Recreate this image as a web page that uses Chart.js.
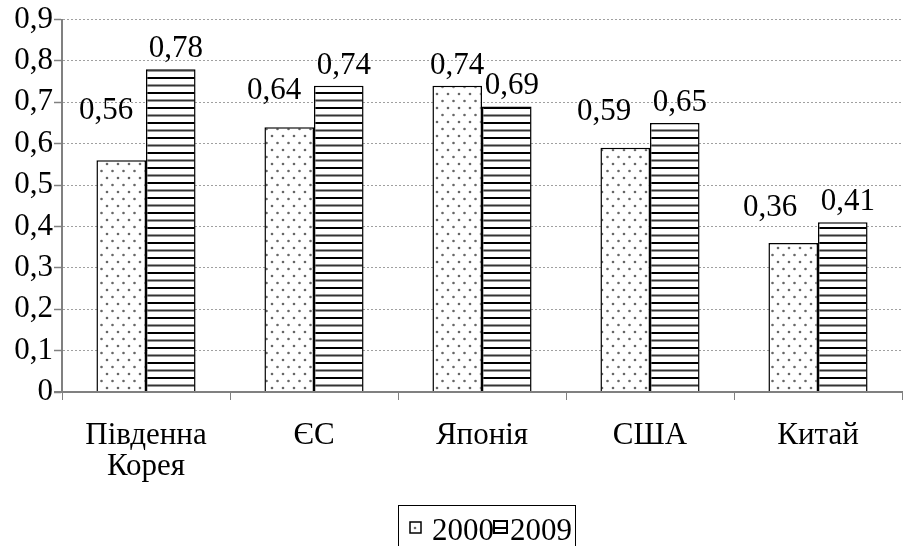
<!DOCTYPE html>
<html>
<head>
<meta charset="utf-8">
<script src="https://cdn.jsdelivr.net/npm/chart.js@4"></script>
<style>
  html, body { margin: 0; padding: 0; background: #fff; }
  #wrap { width: 906px; height: 546px; position: relative; }
</style>
</head>
<body>
<div id="wrap"><canvas id="chart"></canvas></div>
<script>
// Chart data
const categories = [['Південна', 'Корея'], 'ЄС', 'Японія', 'США', 'Китай'];
const seriesNames = ['2000', '2009'];
const values2000 = [0.56, 0.64, 0.74, 0.59, 0.36];
const values2009 = [0.78, 0.74, 0.69, 0.65, 0.41];
const yTicks = ['0', '0,1', '0,2', '0,3', '0,4', '0,5', '0,6', '0,7', '0,8', '0,9'];

const FONT = "'Liberation Serif', 'DejaVu Serif', 'Times New Roman', serif";
const FONT_SIZE = 31;

// hand-moved 2000 labels (dx, dy in px), as in the original
const nudge2000 = [[-15, -41], [-15, -28], [0, -12], [-21, -28], [-23, -27]];

// Fill patterns
function dotPattern() {
  const c = document.createElement('canvas');
  c.width = 11; c.height = 14;
  const g = c.getContext('2d');
  g.fillStyle = '#fff';
  g.fillRect(0, 0, 11, 14);
  g.fillStyle = '#666';
  g.beginPath(); g.arc(2.5, 3, 1.3, 0, Math.PI * 2); g.fill();
  g.beginPath(); g.arc(8, 10, 1.3, 0, Math.PI * 2); g.fill();
  return g.createPattern(c, 'repeat');
}

function stripePattern() {
  const c = document.createElement('canvas');
  c.width = 8; c.height = 15;
  const g = c.getContext('2d');
  g.fillStyle = '#fff';
  g.fillRect(0, 0, 8, 15);
  g.fillStyle = '#000';
  g.fillRect(0, 2, 8, 2);
  g.fillStyle = '#333';
  g.fillRect(0, 9.5, 8, 2);
  return g.createPattern(c, 'repeat');
}

const fill2000 = dotPattern();
const fill2009 = stripePattern();

function fmt(v) {
  return v.toFixed(2).replace('.', ',');
}

// Value labels above bars
const valueLabels = {
  id: 'valueLabels',
  afterDatasetsDraw(chart) {
    const ctx = chart.ctx;
    ctx.save();
    ctx.font = FONT_SIZE + 'px ' + FONT;
    ctx.fillStyle = '#000';
    ctx.textAlign = 'center';
    ctx.textBaseline = 'alphabetic';
    chart.getDatasetMeta(0).data.forEach((bar, j) => {
      const [dx, dy] = nudge2000[j];
      ctx.fillText(fmt(values2000[j]), bar.x + dx, bar.y + dy);
    });
    chart.getDatasetMeta(1).data.forEach((bar, j) => {
      ctx.fillText(fmt(values2009[j]), bar.x + 5, bar.y - 12);
    });
    ctx.restore();
  }
};

// Axis lines drawn solid on top (grid lines are dashed)
const solidAxes = {
  id: 'solidAxes',
  afterDatasetsDraw(chart) {
    const { ctx, chartArea: a } = chart;
    ctx.save();
    ctx.strokeStyle = '#808080';
    ctx.lineWidth = 2;
    ctx.setLineDash([]);
    ctx.beginPath();
    ctx.moveTo(a.left, a.top);
    ctx.lineTo(a.left, a.bottom + 1);
    ctx.moveTo(a.left - 8, a.bottom);
    ctx.lineTo(a.right, a.bottom);
    ctx.stroke();
    ctx.restore();
  }
};

// Legend box at the bottom
const bottomLegend = {
  id: 'bottomLegend',
  afterDraw(chart) {
    const ctx = chart.ctx;
    ctx.save();
    ctx.strokeStyle = '#000';
    ctx.lineWidth = 1;
    ctx.strokeRect(398.5, 505.5, 177, 60);
    ctx.font = FONT_SIZE + 'px ' + FONT;
    ctx.textBaseline = 'alphabetic';

    // 2000
    ctx.fillStyle = fill2000;
    ctx.fillRect(410, 522, 11, 11);
    ctx.strokeStyle = '#000';
    ctx.lineWidth = 1.5;
    ctx.strokeRect(410, 522, 11, 11);
    ctx.fillStyle = '#000';
    ctx.fillText(seriesNames[0], 432, 540);

    // 2009
    ctx.fillStyle = fill2009;
    ctx.fillRect(494, 521, 13, 12);
    ctx.lineWidth = 2;
    ctx.strokeRect(494, 521, 13, 12);
    ctx.fillStyle = '#000';
    ctx.fillText(seriesNames[1], 510, 540);
    ctx.restore();
  }
};

new Chart(document.getElementById('chart'), {
  type: 'bar',
  data: {
    labels: categories,
    datasets: [
      {
        label: seriesNames[0],
        data: values2000,
        backgroundColor: fill2000,
        borderColor: '#000',
        borderWidth: 1.5,
        borderSkipped: 'bottom'
      },
      {
        label: seriesNames[1],
        data: values2009,
        backgroundColor: fill2009,
        borderColor: '#000',
        borderWidth: 1.5,
        borderSkipped: 'bottom'
      }
    ]
  },
  options: {
    responsive: true,
    maintainAspectRatio: false,
    animation: false,
    devicePixelRatio: 1,
    categoryPercentage: 0.59,
    barPercentage: 1,
    layout: { padding: { top: 16, right: 4, bottom: 0, left: 0 } },
    plugins: {
      legend: { display: false },
      tooltip: { enabled: false }
    },
    scales: {
      x: {
        afterFit(scale) { scale.height = 154; },
        grid: {
          display: true,
          drawOnChartArea: false,
          drawTicks: true,
          tickLength: 8,
          color: '#808080',
          offset: true
        },
        border: { color: '#808080', width: 2 },
        ticks: {
          color: '#000',
          font: { family: FONT, size: FONT_SIZE, lineHeight: 1 },
          padding: 20,
          maxRotation: 0,
          autoSkip: false
        }
      },
      y: {
        min: 0,
        max: 0.9,
        afterFit(scale) { scale.width = 62; },
        grid: {
          color: '#a0a0a0',
          lineWidth: 1,
          tickLength: 8,
          tickColor: '#808080',
          tickBorderDash: [],
          tickWidth: 1.5
        },
        border: { color: '#808080', width: 2, dash: [2, 2] },
        ticks: {
          stepSize: 0.1,
          color: '#000',
          padding: 1,
          font: { family: FONT, size: FONT_SIZE },
          callback: (v, i) => yTicks[i]
        }
      }
    }
  },
  plugins: [valueLabels, solidAxes, bottomLegend]
});
</script>
</body>
</html>
